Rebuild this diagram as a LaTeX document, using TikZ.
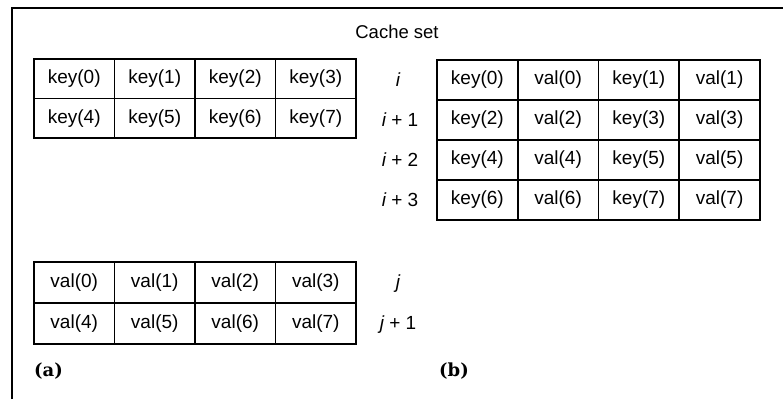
\documentclass[tikz,border=0pt]{standalone}
\usepackage{fontspec}
\setsansfont{Liberation Sans}
\newfontfamily\capfont{DejaVu Serif}
\begin{document}
\begin{tikzpicture}[x=1pt,y=-1pt,
  cellfont/.style={font=\sffamily\fontsize{19}{21}\selectfont},
  cell/.style={draw, line width=1.6pt, inner sep=0pt, cellfont},
  cella/.style={cell, minimum width=80.5pt, minimum height=39.5pt},
  cellv/.style={cell, minimum width=80.5pt, minimum height=41pt},
  cellb/.style={cell, minimum width=80.75pt, minimum height=40pt},
  rowlabel/.style={inner sep=0pt, cellfont},
  caption/.style={inner sep=0pt, anchor=west, font=\capfont\bfseries\fontsize{18}{20}\selectfont},
  frame/.style={line width=2pt}]
\useasboundingbox (0,0) rectangle (783,399);
\fill[white] (0,0) rectangle (783,399);
% partial frame
\coordinate (fbl) at (12,399);
\coordinate (ftl) at (12,8);
\coordinate (ftr) at (783,8);
\draw[frame] (fbl) -- (ftl) -- (ftr);
% title
\node[rowlabel, font=\sffamily\fontsize{18.5}{20}\selectfont] (title) at (397,32) {Cache set};
% (a) key table
\foreach \n in {0,...,7}{
  \pgfmathtruncatemacro{\c}{mod(\n,4)}
  \pgfmathtruncatemacro{\r}{\n/4}
  \node[cella] (ka\n) at ({34+80.5*(\c+0.5)},{59+39.5*(\r+0.5)}) {key(\n)};
}
% (a) val table
\foreach \n in {0,...,7}{
  \pgfmathtruncatemacro{\c}{mod(\n,4)}
  \pgfmathtruncatemacro{\r}{\n/4}
  \node[cellv] (va\n) at ({34+80.5*(\c+0.5)},{262+41*(\r+0.5)}) {val(\n)};
}
% (b) interleaved table
\foreach \r in {0,...,3}{
  \pgfmathtruncatemacro{\ka}{2*\r}
  \pgfmathtruncatemacro{\kb}{2*\r+1}
  \node[cellb] (b\r0) at ({437+80.75*0.5},{60+40*(\r+0.5)}) {key(\ka)};
  \node[cellb] (b\r1) at ({437+80.75*1.5},{60+40*(\r+0.5)}) {val(\ka)};
  \node[cellb] (b\r2) at ({437+80.75*2.5},{60+40*(\r+0.5)}) {key(\kb)};
  \node[cellb] (b\r3) at ({437+80.75*3.5},{60+40*(\r+0.5)}) {val(\kb)};
}
% row labels
\node[rowlabel] (li0) at (398,80) {\itshape i};
\node[rowlabel] (li1) at (400,120) {{\itshape i} + 1};
\node[rowlabel] (li2) at (400,160) {{\itshape i} + 2};
\node[rowlabel] (li3) at (400,200) {{\itshape i} + 3};
\node[rowlabel] (lj0) at (398,284) {\itshape j};
\node[rowlabel] (lj1) at (398,325) {{\itshape j} + 1};
% captions
\node[caption] (capa) at (34,371) {(a)};
\node[caption] (capb) at (439,371) {(b)};
\end{tikzpicture}
\end{document}
